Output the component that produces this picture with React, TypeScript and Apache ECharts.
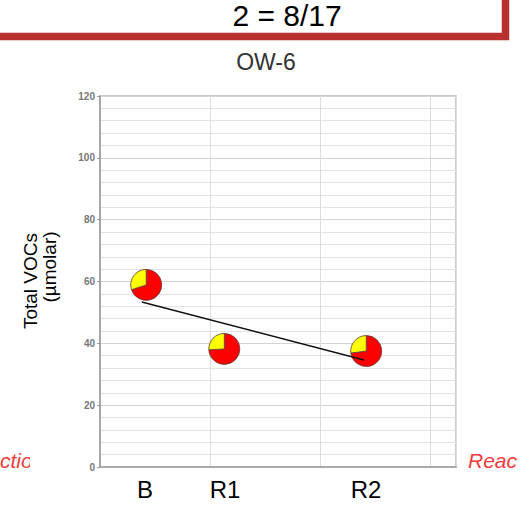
import React, { useEffect, useRef } from "react";
import * as echarts from "echarts";

const categories = ["B", "R1", "R2"];
const sampleX = [0.42, 1.13, 2.42];
const totalVOCs = [58.9, 38.2, 37.5];
const yellowFraction = [0.3, 0.26, 0.27];
const trendX = [0.38, 2.4];
const trendY = [53.4, 34.6];
const yTicks = [0, 20, 40, 60, 80, 100, 120];
const headerText = "2 = 8/17";
const chartTitle = "OW-6";
const categoryLabelX = [145, 225, 366];

const FONT = "'Liberation Sans', Arial, sans-serif";

export default function App() {
  const ref = useRef<HTMLDivElement>(null);
  useEffect(() => {
    if (!ref.current) return;
    const chart = echarts.init(ref.current, null, { renderer: "svg" });
    const pieData = sampleX.map((x, i) => [x, totalVOCs[i], yellowFraction[i]]);
    chart.setOption({
      animation: false,
      backgroundColor: "#ffffff",
      grid: {
        left: 100,
        top: 96,
        width: 356,
        height: 371,
        show: true,
        borderColor: "#bbbbbb",
        borderWidth: 1.5,
        backgroundColor: "transparent",
      },
      xAxis: {
        type: "value",
        min: 0,
        max: 3.236,
        interval: 1,
        axisLabel: { show: false },
        axisTick: { show: false },
        axisLine: { show: true, lineStyle: { color: "#aaaaaa", width: 2 } },
        splitLine: { show: true, lineStyle: { color: "#dddddd", width: 1 } },
      },
      yAxis: {
        type: "value",
        min: 0,
        max: 120,
        interval: 20,
        axisLine: { show: true, lineStyle: { color: "#999999", width: 1.5 } },
        axisTick: { show: true, length: 3, lineStyle: { color: "#999999" } },
        axisLabel: {
          show: true,
          fontSize: 10,
          fontWeight: "bold",
          color: "#777777",
          fontFamily: FONT,
          margin: 5,
          formatter: (v: number) => (yTicks.indexOf(v) >= 0 ? String(v) : ""),
        },
        splitLine: { show: true, lineStyle: { color: "#d4d4d4", width: 1 } },
        minorTick: { show: false, splitNumber: 5 },
        minorSplitLine: { show: true, lineStyle: { color: "#e2e2e2", width: 1 } },
      },
      series: [
        {
          type: "custom",
          z: 2,
          data: pieData,
          renderItem: (params: any, api: any) => {
            const pt = api.coord([api.value(0), api.value(1)]);
            const frac = api.value(2);
            const r = 15.5;
            const top = -Math.PI / 2;
            const yStart = top - frac * 2 * Math.PI;
            return {
              type: "group",
              children: [
                {
                  type: "sector",
                  shape: { cx: pt[0], cy: pt[1], r, r0: 0, startAngle: top, endAngle: yStart + 2 * Math.PI, clockwise: true },
                  style: { fill: "#ff0000", stroke: "#5a3a3a", lineWidth: 0.8 },
                },
                {
                  type: "sector",
                  shape: { cx: pt[0], cy: pt[1], r, r0: 0, startAngle: yStart, endAngle: top, clockwise: true },
                  style: { fill: "#ffff00", stroke: "#5a3a3a", lineWidth: 0.8 },
                },
              ],
            };
          },
        },
        {
          type: "line",
          z: 3,
          data: trendX.map((x, i) => [x, trendY[i]]),
          symbol: "none",
          lineStyle: { color: "#111111", width: 1.5 },
          silent: true,
        },
      ],
      graphic: [
        {
          type: "rect",
          shape: { x: -20, y: -20, width: 525.5, height: 56.5 },
          style: { fill: "#ffffff", stroke: "#b8312f", lineWidth: 7.5 },
          z: 10,
        },
        {
          type: "text",
          x: 287,
          y: 15,
          style: { text: headerText, font: `30px ${FONT}`, fill: "#000000", align: "center", verticalAlign: "middle" },
          z: 11,
        },
        {
          type: "text",
          x: 266,
          y: 62,
          style: { text: chartTitle, font: `23px ${FONT}`, fill: "#333333", align: "center", verticalAlign: "middle" },
          z: 11,
        },
        {
          type: "text",
          x: 30,
          y: 281,
          rotation: Math.PI / 2,
          style: { text: "Total VOCs", font: `19px ${FONT}`, fill: "#000000", align: "center", verticalAlign: "middle" },
          z: 11,
        },
        {
          type: "text",
          x: 49,
          y: 267,
          rotation: Math.PI / 2,
          style: { text: "(µmolar)", font: `19px ${FONT}`, fill: "#000000", align: "center", verticalAlign: "middle" },
          z: 11,
        },
        ...categories.map((c, i) => ({
          type: "text",
          x: categoryLabelX[i],
          y: 489,
          style: { text: c, font: `24px ${FONT}`, fill: "#000000", align: "center", verticalAlign: "middle" },
          z: 11,
        })),
        {
          type: "text",
          x: -14,
          y: 460,
          style: { text: "Actio", font: `italic 21px ${FONT}`, fill: "#f03c3c", align: "left", verticalAlign: "middle" },
          z: 11,
        },
        {
          type: "rect",
          shape: { x: 30, y: 445, width: 20, height: 30 },
          style: { fill: "#ffffff" },
          z: 12,
        },
        {
          type: "text",
          x: 468,
          y: 460,
          style: { text: "Reac", font: `italic 21px ${FONT}`, fill: "#f03c3c", align: "left", verticalAlign: "middle" },
          z: 11,
        },
      ],
    });
    return () => chart.dispose();
  }, []);
  return (
    <div
      ref={ref}
      style={{ position: "absolute", left: 0, top: 0, width: 526, height: 505 }}
    />
  );
}
